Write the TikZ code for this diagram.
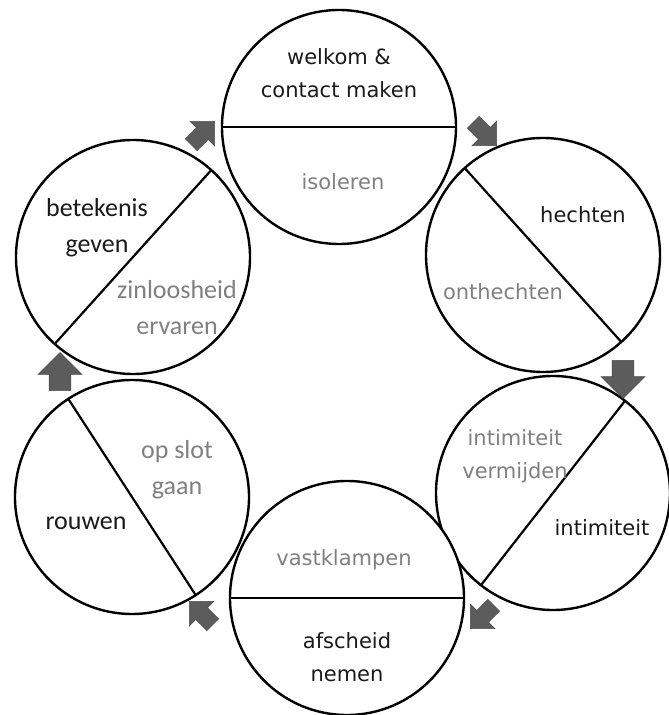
\documentclass[tikz,border=0pt]{standalone}
\usepackage{fontspec}
\usepackage{tikz}
\usetikzlibrary{shapes.arrows,positioning,calc}
\newfontfamily\tahomafont{DejaVu Sans}
\newfontfamily\calibrifont{Carlito}
\definecolor{inkdark}{HTML}{1A1A1A}
\definecolor{inkgray}{HTML}{808080}
\definecolor{arrowfill}{HTML}{5C5C5C}

\begin{document}
\begin{tikzpicture}[
    x=1pt, y=1pt,
    phase/.style={
      circle, draw=black, line width=2.4pt, fill=white,
      minimum size=234pt, inner sep=0pt, outer sep=0pt
    },
    divider/.style={
      draw=black, line width=2.2pt
    },
    label_dark/.style={
      text=inkdark, align=center, font=\tahomafont\fontsize{21}{33}\selectfont
    },
    label_gray/.style={
      text=inkgray, align=center, font=\tahomafont\fontsize{21}{33}\selectfont
    },
    label_dark_c/.style={
      text=inkdark, align=center, font=\calibrifont\fontsize{26}{36}\selectfont
    },
    label_gray_c/.style={
      text=inkgray, align=center, font=\calibrifont\fontsize{26}{36}\selectfont
    },
    flow_big/.style={
      single arrow, draw=black!70, fill=arrowfill, line width=0.6pt,
      inner xsep=0pt, inner ysep=10.5pt, minimum height=38pt,
      single arrow head extend=11pt
    },
    flow_small/.style={
      single arrow, draw=black!70, fill=arrowfill, line width=0.6pt,
      inner xsep=0pt, inner ysep=8pt, minimum height=33pt,
      single arrow head extend=9pt
    }
  ]
  \useasboundingbox[fill=white] (0,0) rectangle (669,715);

  % --- the six phases ---
  \node[phase] (top) at (339,588) {};
  \node[phase] (ur)  at (543,460) {};
  \node[phase] (lr)  at (553,222) {};
  \node[phase] (bot) at (347,117) {};
  \node[phase] (ll)  at (132,218) {};
  \node[phase] (ul)  at (133,458) {};

  \draw[divider] (top.west) -- (top.east);
  \draw[divider] (ur.132) -- (ur.-48);
  \draw[divider] (lr.52) -- (lr.232);
  \draw[divider] (bot.west) -- (bot.east);
  \draw[divider] (ll.123) -- (ll.-57);
  \draw[divider] (ul.48) -- (ul.228);

  % --- labels ---
  \node[label_dark] (welkom) at ([shift={(0,54)}]top.center) {welkom \&\\contact maken};
  \node[label_gray] (isoleren) at ([shift={(4,-55)}]top.center) {isoleren};

  \node[label_dark] (hechten) at ([shift={(40,40)}]ur.center) {hechten};
  \node[label_gray] (onthechten) at ([shift={(-40,-37)}]ur.center) {onthechten};

  \node[label_gray] (vermijden) at ([shift={(-38,37)}]lr.center) {intimiteit\\vermijden};
  \node[label_dark] (intimiteit) at ([shift={(49,-35)}]lr.center) {intimiteit};

  \node[label_gray] (vastklampen) at ([shift={(-3,38)}]bot.center) {vastklampen};
  \node[label_dark] (afscheid) at ([shift={(0,-59)}]bot.center) {afscheid\\nemen};

  \node[label_gray_c] (opslot) at ([shift={(45,27)}]ll.center) {op slot\\gaan};
  \node[label_dark_c] (rouwen) at ([shift={(-46,-26)}]ll.center) {rouwen};

  \node[label_dark_c] (betekenis) at ([shift={(-36,29)}]ul.center) {betekenis\\geven};
  \node[label_gray_c] (zinloos) at ([shift={(44,-51)}]ul.center) {zinloosheid\\ervaren};

  % --- arrows between the phases ---
  \node[flow_small, rotate=-45] (toprur) at (482,584) {};
  \node[flow_big, rotate=-90] (urlr) at (623,341) {};
  \node[flow_small, rotate=-135] (lrbot) at (485,101) {};
  \node[flow_small, rotate=135] (botll) at (204,99) {};
  \node[flow_big, rotate=90] (llul) at (60,338) {};
  \node[flow_small, rotate=45] (ultop) at (200,579) {};
\end{tikzpicture}
\end{document}
